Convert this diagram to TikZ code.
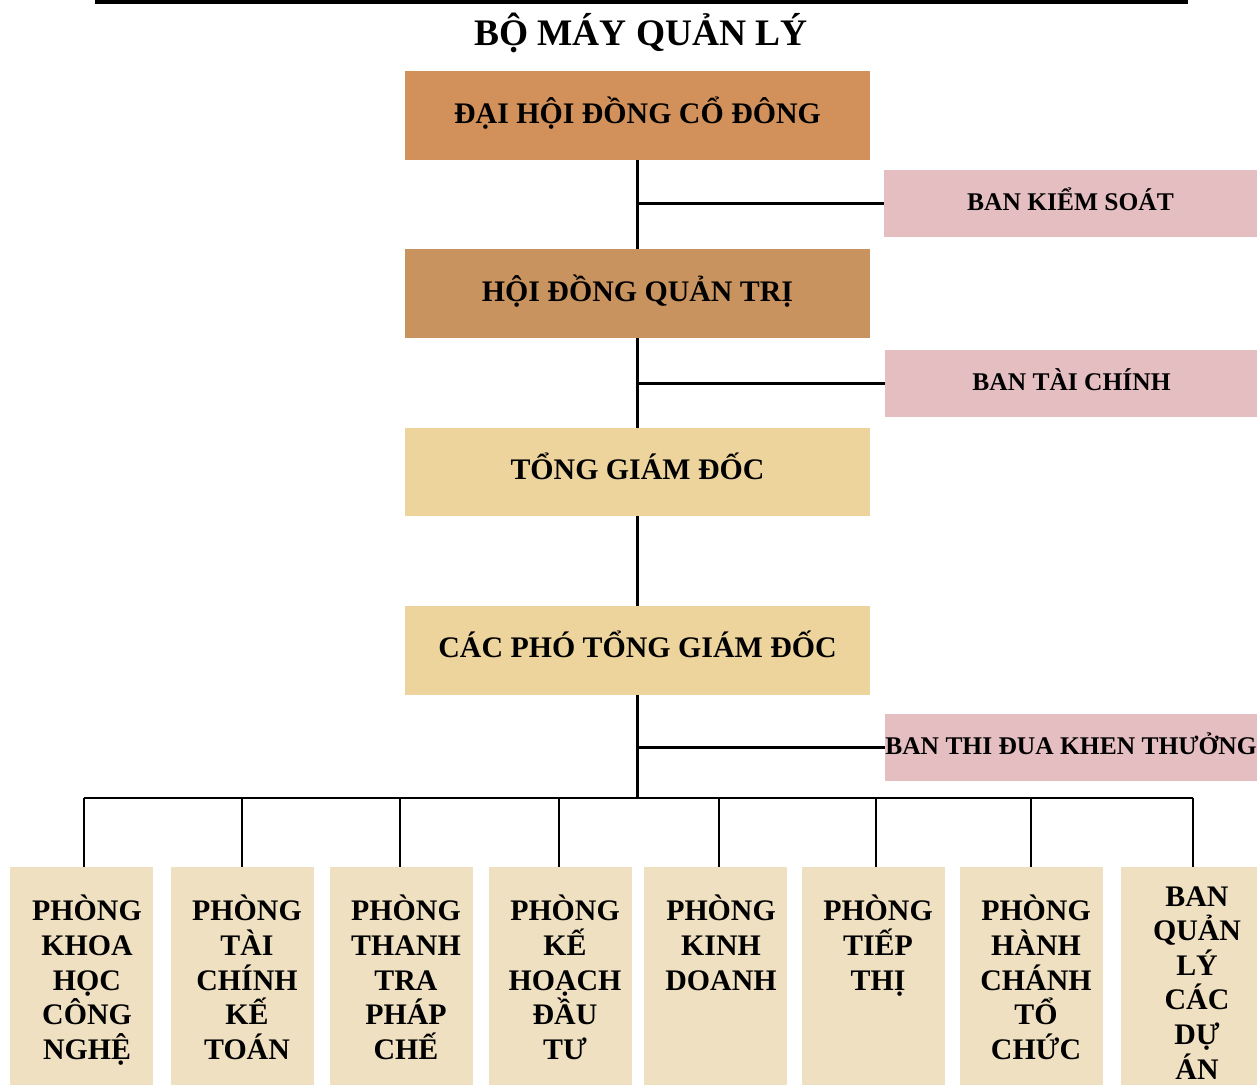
\documentclass[tikz,border=0pt]{standalone}
\usepackage{fontspec}
\setmainfont{Liberation Serif}
\usepackage{tikz}

\definecolor{woodbrown}{HTML}{D2905A}
\definecolor{corkbrown}{HTML}{C9935F}
\definecolor{papyrus}{HTML}{EDD49C}
\definecolor{rosepink}{HTML}{E5BEC2}
\definecolor{parchment}{HTML}{EFE0C1}

\begin{document}
\begin{tikzpicture}[x=0.02cm, y=-0.02cm,
    bigbox/.style={rectangle, fill=#1, minimum width=9.32cm, minimum height=1.78cm, inner sep=0pt, outer sep=0pt,
        text height=11.25pt, text depth=2.25pt, font=\fontsize{17}{20}\selectfont\bfseries},
    sidebox/.style={rectangle, fill=rosepink, minimum width=7.46cm, minimum height=1.34cm, inner sep=0pt, outer sep=0pt,
        text height=9.6pt, text depth=2.2pt, font=\fontsize{14.5}{17}\selectfont\bfseries},
    deptbox/.style={rectangle, fill=parchment, minimum width=#1, minimum height=4.36cm, inner sep=0pt, outer sep=0pt},
    depttext/.style={anchor=north, align=center, inner sep=0pt, font=\fontsize{17}{19.7}\selectfont\bfseries},
    link/.style={line width=1.25pt}]
    \useasboundingbox (0,0) rectangle (1257,1085);

    % Heading
    \draw[line width=2.3pt] (95,2) -- (1188,2);
    \node[font=\fontsize{21.3}{25}\selectfont\bfseries] (TITLE) at (641,33) {BỘ MÁY QUẢN LÝ};

    % Main chain
    \node[bigbox=woodbrown] (DHCD) at (637.5,115.5) {ĐẠI HỘI ĐỒNG CỔ ĐÔNG};
    \node[bigbox=corkbrown] (HDQT) at (637.5,293.5) {HỘI ĐỒNG QUẢN TRỊ};
    \node[bigbox=papyrus] (TGD) at (637.5,472) {TỔNG GIÁM ĐỐC};
    \node[bigbox=papyrus] (PTGD) at (637.5,650) {CÁC PHÓ TỔNG GIÁM ĐỐC};

    % Side boards
    \node[sidebox] (BKS) at (1070.5,203.5) {BAN KIỂM SOÁT};
    \node[sidebox] (BTC) at (1071.5,383.5) {BAN TÀI CHÍNH};
    \node[sidebox] (BTDKT) at (1071,747.5) {BAN THI ĐUA KHEN THƯỞNG};

    % Departments
    \node[deptbox=2.86cm] (P1) at (81.5,976) {};
    \node[deptbox=2.86cm] (P2) at (242.5,976) {};
    \node[deptbox=2.86cm] (P3) at (401.5,976) {};
    \node[deptbox=2.86cm] (P4) at (560.5,976) {};
    \node[deptbox=2.86cm] (P5) at (715.5,976) {};
    \node[deptbox=2.86cm] (P6) at (873.5,976) {};
    \node[deptbox=2.86cm] (P7) at (1031.5,976) {};
    \node[deptbox=2.72cm] (P8) at (1189,976) {};

    \node[depttext] (T1) at (87,895) {PHÒNG\\KHOA\\HỌC\\CÔNG\\NGHỆ};
    \node[depttext] (T2) at (247,895) {PHÒNG\\TÀI\\CHÍNH\\KẾ\\TOÁN};
    \node[depttext] (T3) at (406,895) {PHÒNG\\THANH\\TRA\\PHÁP\\CHẾ};
    \node[depttext] (T4) at (565,895) {PHÒNG\\KẾ\\HOẠCH\\ĐẦU\\TƯ};
    \node[depttext] (T5) at (721,895) {PHÒNG\\KINH\\DOANH};
    \node[depttext] (T6) at (878,895) {PHÒNG\\TIẾP\\THỊ};
    \node[depttext] (T7) at (1036,895) {PHÒNG\\HÀNH\\CHÁNH\\TỔ\\CHỨC};
    \node[depttext] (T8) at (1197,886) {BAN\\QUẢN\\LÝ\\CÁC\\DỰ\\ÁN};

    % Connectors
    \draw[link] (DHCD.south) -- (HDQT.north);
    \draw[link] (HDQT.south) -- (TGD.north);
    \draw[link] (TGD.south) -- (PTGD.north);
    \coordinate (BUS) at (637.5,798);
    \draw[link] (PTGD.south) -- (BUS);
    \draw[link] (DHCD.south |- BKS.west) -- (BKS.west);
    \draw[link] (HDQT.south |- BTC.west) -- (BTC.west);
    \draw[link] (PTGD.south |- BTDKT.west) -- (BTDKT.west);
    \draw[link] ([xshift=0.05cm]P1.north |- BUS) -- ([xshift=0.08cm]P8.north |- BUS);
    \foreach \i/\dx in {1/2.5, 2/-0.5, 3/-1.5, 4/-1.5, 5/3.5, 6/2.5, 7/-0.5, 8/4}
        \draw[link] ([xshift=\dx*0.02cm]P\i.north |- BUS) -- ([xshift=\dx*0.02cm]P\i.north);
\end{tikzpicture}
\end{document}
